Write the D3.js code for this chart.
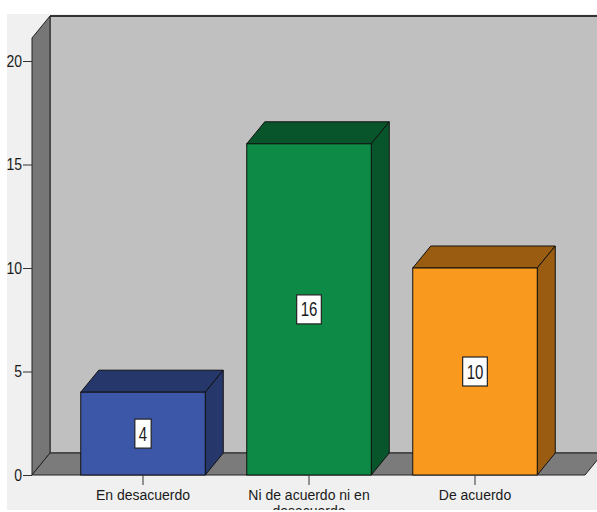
<!DOCTYPE html>
<html>
<head>
<meta charset="utf-8">
<script src="https://cdn.jsdelivr.net/npm/d3@7"></script>
<style>
  html, body { margin: 0; padding: 0; background: #ffffff; }
  svg { display: block; }
  text { font-family: "Liberation Sans", Arial, sans-serif; fill: #1a1a1a; }
</style>
</head>
<body>
<svg id="chart" width="597" height="512"></svg>
<script>
// Response counts per agreement level
const categories = ["En desacuerdo", "Ni de acuerdo ni en desacuerdo", "De acuerdo"];
const counts = [4, 16, 10];
const yTicks = [0, 5, 10, 15, 20];
const frontColors = ["#3c57a8", "#0e8a47", "#f99a1f"];
const shadeColors = ["#26376c", "#08552b", "#9a5c10"];

const W = 597, H = 512;
const svg = d3.select("#chart");

// 3D depth offset of the box (back is up and to the right)
const DX = 18, DY = 22;
const left = 32, right = 585, bottom = 475;

const y = d3.scaleLinear().domain([0, 20]).range([bottom, 61]);
const x = d3.scaleBand().domain(categories).range([60, 558])
  .paddingInner(0.25).paddingOuter(0.125);
const yTop = 38; // front top of the side wall

// clip to the chart image area
svg.append("defs").append("clipPath").attr("id", "clip")
  .append("rect").attr("x", 7).attr("y", 14).attr("width", W - 7).attr("height", 510 - 14);

const g = svg.append("g").attr("clip-path", "url(#clip)");

g.append("rect").attr("x", 7).attr("y", 14).attr("width", W - 7).attr("height", 510 - 14)
  .attr("fill", "#f0f0f0");

const line = d3.line();

// back wall
g.append("path")
  .attr("d", line([[left + DX, yTop - DY], [right + DX + 40, yTop - DY], [right + DX + 40, bottom - DY], [left + DX, bottom - DY]]) + "Z")
  .attr("fill", "#c0c0c0").attr("stroke", "#222").attr("stroke-width", 1);
// top edge line of the back wall
g.append("line").attr("x1", left + DX).attr("x2", W + 10)
  .attr("y1", yTop - DY).attr("y2", yTop - DY)
  .attr("stroke", "#333").attr("stroke-width", 2);

// side wall
g.append("path")
  .attr("d", line([[left, bottom], [left, yTop], [left + DX, yTop - DY], [left + DX, bottom - DY]]) + "Z")
  .attr("fill", "#767676").attr("stroke", "#222").attr("stroke-width", 1);

// floor
g.append("path")
  .attr("d", line([[left, bottom], [left + DX, bottom - DY], [right + DX, bottom - DY], [right, bottom]]) + "Z")
  .attr("fill", "#7b7b7b").attr("stroke", "#222").attr("stroke-width", 1);

// y axis ticks
const yAxis = d3.axisLeft(y).tickValues(yTicks).tickSize(9).tickPadding(1);
const ya = g.append("g").attr("transform", `translate(${left},0)`).call(yAxis);
ya.select(".domain").remove();
ya.selectAll(".tick line").attr("stroke", "#333");
ya.selectAll(".tick text")
  .attr("font-size", 14).attr("fill", "#1a1a1a")
  .attr("font-family", "'Liberation Sans', Arial, sans-serif")
  .attr("transform", "scale(1,1.12)");

// bars as 3D boxes
const bw = x.bandwidth();
const bars = g.selectAll(".bar").data(categories).enter().append("g").attr("class", "bar");
bars.each(function (c, i) {
  const sel = d3.select(this);
  const x0 = x(c), x1 = x0 + bw, yt = y(counts[i]), yb = y(0);
  // top face
  sel.append("path")
    .attr("d", line([[x0, yt], [x0 + DX, yt - DY], [x1 + DX, yt - DY], [x1, yt]]) + "Z")
    .attr("fill", shadeColors[i]).attr("stroke", "#111").attr("stroke-width", 1);
  // side face
  sel.append("path")
    .attr("d", line([[x1, yt], [x1 + DX, yt - DY], [x1 + DX, yb - DY], [x1, yb]]) + "Z")
    .attr("fill", shadeColors[i]).attr("stroke", "#111").attr("stroke-width", 1);
  // front face
  sel.append("rect").attr("x", x0).attr("y", yt).attr("width", bw).attr("height", yb - yt)
    .attr("fill", frontColors[i]).attr("stroke", "#111").attr("stroke-width", 1);

  // value label
  const cx = x0 + bw / 2, cy = y(counts[i] / 2);
  const lab = sel.append("g").attr("transform", `translate(${cx},${cy})`);
  const box = lab.append("rect");
  const t = lab.append("text").text(counts[i])
    .attr("text-anchor", "middle").attr("dy", "0.36em")
    .attr("font-size", 15).attr("transform", "scale(1,1.3)");
  const tw = t.node().getComputedTextLength();
  box.attr("x", -tw / 2 - 4).attr("y", -14.5).attr("width", tw + 8).attr("height", 29)
    .attr("fill", "#ffffff").attr("stroke", "#222").attr("stroke-width", 1.2);
});

// x axis baseline ticks and category labels
const xa = g.append("g");
categories.forEach((c, i) => {
  const cx = x(c) + bw / 2;
  xa.append("line").attr("x1", cx).attr("x2", cx).attr("y1", bottom).attr("y2", bottom + 10)
    .attr("stroke", "#333");
  const t = xa.append("text").attr("x", cx).attr("y", 500)
    .attr("text-anchor", "middle").attr("font-size", 14);
  // wrap words into lines no wider than the bar
  const words = c.split(" ");
  let lineWords = [], lineNo = 0;
  let tspan = t.append("tspan").attr("x", cx).attr("dy", 0);
  words.forEach(w => {
    lineWords.push(w);
    tspan.text(lineWords.join(" "));
    if (tspan.node().getComputedTextLength() > bw + 4 && lineWords.length > 1) {
      lineWords.pop();
      tspan.text(lineWords.join(" "));
      lineWords = [w];
      lineNo++;
      tspan = t.append("tspan").attr("x", cx).attr("dy", 16).text(w);
    }
  });
});
</script>
</body>
</html>
